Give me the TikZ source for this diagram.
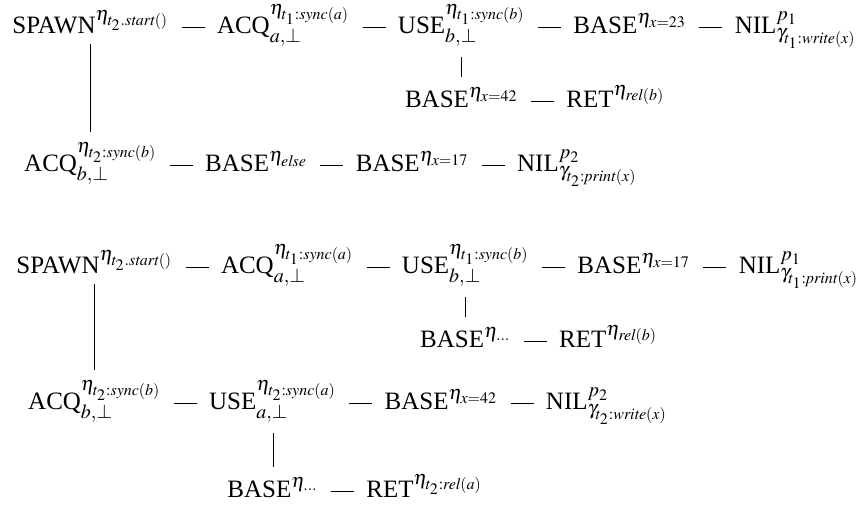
\documentclass[tikz,border=0pt]{standalone}
\usepackage{mathptmx}
\usepackage{fontspec}
\setmainfont{Liberation Serif}
\DeclareMathSizes{12.5}{12.5}{10}{8}
\usetikzlibrary{positioning}

\tikzset{
  evt/.style={inner sep=2pt, font=\fontsize{12.5}{15}\selectfont},
  seq/.style={line width=0.5pt, shorten <=4pt, shorten >=4pt},
  stem/.style={line width=0.5pt, shorten <=3pt, shorten >=3pt}
}

\begin{document}
\begin{tikzpicture}[x=0.5pt, y=-0.5pt, node distance=19.5pt]
    \useasboundingbox (0,0) rectangle (864,505);

    % first run
    \node[evt, anchor=base west] (spawn1) at (8,33) {SPAWN$^{\eta_{t_2.\mathit{start}()}}$};
    \node[evt, base right=of spawn1] (acq1) {ACQ$^{\eta_{t_1:\mathit{sync}(a)}}_{a,\perp}$};
    \node[evt, base right=of acq1] (use1) {USE$^{\eta_{t_1:\mathit{sync}(b)}}_{b,\perp}$};
    \node[evt, base right=of use1] (bx1) {BASE$^{\eta_{x=23}}$};
    \node[evt, base right=of bx1] (nil1) {NIL$^{p_1}_{\gamma_{t_1:\mathit{write}(x)}}$};

    \node[evt, anchor=base] (bx2) at ([yshift=-37pt]use1.base) {BASE$^{\eta_{x=42}}$};
    \node[evt, base right=of bx2] (ret1) {RET$^{\eta_{\mathit{rel}(b)}}$};

    \node[evt, anchor=base] (acq2) at ([yshift=-69pt]spawn1.base) {ACQ$^{\eta_{t_2:\mathit{sync}(b)}}_{b,\perp}$};
    \node[evt, base right=of acq2] (belse) {BASE$^{\eta_{\mathit{else}}}$};
    \node[evt, base right=of belse] (bx3) {BASE$^{\eta_{x=17}}$};
    \node[evt, base right=of bx3] (nil2) {NIL$^{p_2}_{\gamma_{t_2:\mathit{print}(x)}}$};

    \draw[seq] ([yshift=3pt]spawn1.base east) -- ([yshift=3pt]acq1.base west);
    \draw[seq] ([yshift=3pt]acq1.base east) -- ([yshift=3pt]use1.base west);
    \draw[seq] ([yshift=3pt]use1.base east) -- ([yshift=3pt]bx1.base west);
    \draw[seq] ([yshift=3pt]bx1.base east) -- ([yshift=3pt]nil1.base west);
    \draw[seq] ([yshift=3pt]bx2.base east) -- ([yshift=3pt]ret1.base west);
    \draw[seq] ([yshift=3pt]acq2.base east) -- ([yshift=3pt]belse.base west);
    \draw[seq] ([yshift=3pt]belse.base east) -- ([yshift=3pt]bx3.base west);
    \draw[seq] ([yshift=3pt]bx3.base east) -- ([yshift=3pt]nil2.base west);
    \draw[stem] (use1) -- (bx2);
    \draw[stem] (spawn1) -- (acq2);

    % second run
    \node[evt, anchor=base west] (spawn2) at (12,273) {SPAWN$^{\eta_{t_2.\mathit{start}()}}$};
    \node[evt, base right=of spawn2] (acq3) {ACQ$^{\eta_{t_1:\mathit{sync}(a)}}_{a,\perp}$};
    \node[evt, base right=of acq3] (use2) {USE$^{\eta_{t_1:\mathit{sync}(b)}}_{b,\perp}$};
    \node[evt, base right=of use2] (bx4) {BASE$^{\eta_{x=17}}$};
    \node[evt, base right=of bx4] (nil3) {NIL$^{p_1}_{\gamma_{t_1:\mathit{print}(x)}}$};

    \node[evt, anchor=base] (bdots1) at ([yshift=-37pt]use2.base) {BASE$^{\eta_{\ldots}}$};
    \node[evt, base right=of bdots1] (ret2) {RET$^{\eta_{\mathit{rel}(b)}}$};

    \node[evt, anchor=base] (acq4) at ([yshift=-68pt]spawn2.base) {ACQ$^{\eta_{t_2:\mathit{sync}(b)}}_{b,\perp}$};
    \node[evt, base right=of acq4] (use3) {USE$^{\eta_{t_2:\mathit{sync}(a)}}_{a,\perp}$};
    \node[evt, base right=of use3] (bx5) {BASE$^{\eta_{x=42}}$};
    \node[evt, base right=of bx5] (nil4) {NIL$^{p_2}_{\gamma_{t_2:\mathit{write}(x)}}$};

    \node[evt, anchor=base] (bdots2) at ([yshift=-44pt]use3.base) {BASE$^{\eta_{\ldots}}$};
    \node[evt, base right=of bdots2] (ret3) {RET$^{\eta_{t_2:\mathit{rel}(a)}}$};

    \draw[seq] ([yshift=3pt]spawn2.base east) -- ([yshift=3pt]acq3.base west);
    \draw[seq] ([yshift=3pt]acq3.base east) -- ([yshift=3pt]use2.base west);
    \draw[seq] ([yshift=3pt]use2.base east) -- ([yshift=3pt]bx4.base west);
    \draw[seq] ([yshift=3pt]bx4.base east) -- ([yshift=3pt]nil3.base west);
    \draw[seq] ([yshift=3pt]bdots1.base east) -- ([yshift=3pt]ret2.base west);
    \draw[seq] ([yshift=3pt]acq4.base east) -- ([yshift=3pt]use3.base west);
    \draw[seq] ([yshift=3pt]use3.base east) -- ([yshift=3pt]bx5.base west);
    \draw[seq] ([yshift=3pt]bx5.base east) -- ([yshift=3pt]nil4.base west);
    \draw[seq] ([yshift=3pt]bdots2.base east) -- ([yshift=3pt]ret3.base west);
    \draw[stem] (use2) -- (bdots1);
    \draw[stem] (spawn2) -- (acq4);
    \draw[stem] (use3) -- (bdots2);
\end{tikzpicture}
\end{document}
